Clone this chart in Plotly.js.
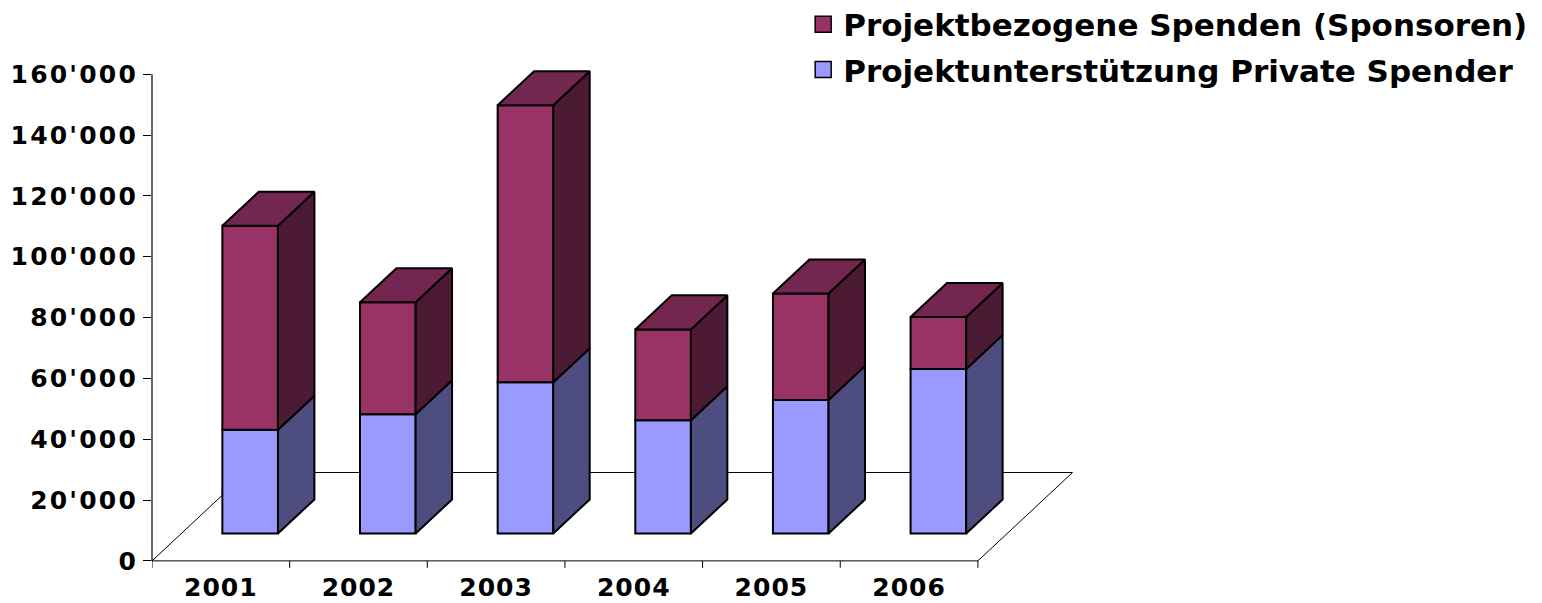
<!DOCTYPE html>
<html>
<head>
<meta charset="utf-8">
<script src="https://cdn.plot.ly/plotly-3.0.1.min.js"></script>
<style>
html,body{margin:0;padding:0;background:#fff;}
#chart{width:1542px;height:603px;}
#chart .ytick text{letter-spacing:2.2px;}
#chart .xtick text{letter-spacing:1px;}
</style>
</head>
<body>
<div id="chart"></div>
<script>
// ---- data ----
const years = ['2001', '2002', '2003', '2004', '2005', '2006'];
const privateSpender = [34100, 39200, 49700, 37200, 43900, 54100];
const sponsoren = [67100, 36800, 91100, 29900, 35000, 17100];
const yTickVals = [0, 20000, 40000, 60000, 80000, 100000, 120000, 140000, 160000];
const yTickText = ["0", "20'000", "40'000", "60'000", "80'000", "100'000", "120'000", "140'000", "160'000"];
const nameSponsoren = 'Projektbezogene Spenden (Sponsoren)';
const namePrivate = 'Projektunterstützung Private Spender';

// ---- geometry / style (not data) ----
const BAR_W = 0.404;
const DEPTH_DX = 0.6875;   // full floor depth, x units
const DEPTH_DY = 29060;    // full floor depth, y units
const F0 = 0.31, F1 = 0.695;
const C = {
  privFront: '#9999FF', privSide: '#4D4D80',
  sponFront: '#993366', sponSide: '#4D1A33', sponTop: '#732650'
};
const OUT = {color: '#000', width: 2};
const FONT = "DejaVu Sans, Verdana, sans-serif";

const idx = years.map((_, i) => i);
const lowerP = idx.map(() => 0);
const lowerS = privateSpender.slice();

function sidePoly(lowers, vals) {
  const xs = [], ys = [];
  idx.forEach(i => {
    const xr = i + BAR_W / 2, lo = lowers[i], up = lowers[i] + vals[i];
    xs.push(xr + F0 * DEPTH_DX, xr + F1 * DEPTH_DX, xr + F1 * DEPTH_DX, xr + F0 * DEPTH_DX, xr + F0 * DEPTH_DX, null);
    ys.push(lo + F0 * DEPTH_DY, lo + F1 * DEPTH_DY, up + F1 * DEPTH_DY, up + F0 * DEPTH_DY, lo + F0 * DEPTH_DY, null);
  });
  return {xs, ys};
}
function topPoly(lowers, vals) {
  const xs = [], ys = [];
  idx.forEach(i => {
    const xl = i - BAR_W / 2, xr = i + BAR_W / 2, t = lowers[i] + vals[i];
    xs.push(xl + F0 * DEPTH_DX, xr + F0 * DEPTH_DX, xr + F1 * DEPTH_DX, xl + F1 * DEPTH_DX, xl + F0 * DEPTH_DX, null);
    ys.push(t + F0 * DEPTH_DY, t + F0 * DEPTH_DY, t + F1 * DEPTH_DY, t + F1 * DEPTH_DY, t + F0 * DEPTH_DY, null);
  });
  return {xs, ys};
}

const frontX = idx.map(i => i + F0 * DEPTH_DX);
const sP = sidePoly(lowerP, privateSpender);
const sS = sidePoly(lowerS, sponsoren);
const tS = topPoly(lowerS, sponsoren);

const polyTrace = (p, color) => ({
  type: 'scatter', mode: 'lines', x: p.xs, y: p.ys, fill: 'toself', fillcolor: color,
  line: {color: '#000', width: 2}, hoverinfo: 'skip', showlegend: false
});

const traces = [
  {type: 'bar', x: frontX, y: privateSpender, base: lowerP.map(v => v + F0 * DEPTH_DY), width: BAR_W,
   marker: {color: C.privFront, line: OUT}, showlegend: false, name: namePrivate},
  {type: 'bar', x: frontX, y: sponsoren, base: lowerS.map(v => v + F0 * DEPTH_DY), width: BAR_W,
   marker: {color: C.sponFront, line: OUT}, showlegend: false, name: nameSponsoren},
  polyTrace(sP, C.privSide),
  polyTrace(sS, C.sponSide),
  polyTrace(tS, C.sponTop),
  {type: 'scatter', mode: 'markers', x: [null], y: [null], name: nameSponsoren, legendgroup: 'a',
   marker: {symbol: 'square', size: 16, color: C.sponFront, line: {color: '#000', width: 1.5}}},
  {type: 'scatter', mode: 'markers', x: [null], y: [null], name: namePrivate, legendgroup: 'b',
   marker: {symbol: 'square', size: 16, color: C.privFront, line: {color: '#000', width: 1.5}}}
];

const xLeft = -0.5, xRight = years.length - 0.5;
const shapes = [
  {type: 'path', layer: 'below', xref: 'x', yref: 'y',
   path: `M${xLeft},0 L${xLeft + DEPTH_DX},${DEPTH_DY} L${xRight + DEPTH_DX},${DEPTH_DY} L${xRight},0 Z`,
   line: {color: '#000', width: 1}},
  {type: 'line', xref: 'paper', yref: 'y', x0: 0, x1: 0, y0: 0, y1: yTickVals[yTickVals.length - 1],
   line: {color: '#000', width: 1.2}}
];
for (let b = xLeft; b <= xRight + 1e-9; b += 1) {
  shapes.push({type: 'line', xref: 'x', yref: 'y', x0: b, x1: b, y0: 0, y1: -2300, line: {color: '#000', width: 1}});
}

const layout = {
  width: 1542, height: 603,
  margin: {l: 152, r: 454.3, t: 55.7, b: 33.2, autoexpand: false},
  paper_bgcolor: '#fff', plot_bgcolor: 'rgba(0,0,0,0)',
  barmode: 'overlay',
  showlegend: true,
  xaxis: {range: [xLeft, 6.3], tickvals: idx, ticktext: years, showgrid: false, zeroline: false,
          showline: false, ticks: '', tickfont: {family: FONT, size: 25, color: '#000', weight: 'bold'}},
  yaxis: {range: [-3000, 166000], tickvals: yTickVals, ticktext: yTickText, showgrid: false, zeroline: false,
          showline: false, ticks: 'outside', ticklen: 8, tickcolor: '#000', tickwidth: 1,
          tickfont: {family: FONT, size: 25, color: '#000', weight: 'bold'}},
  legend: {x: 0.6957, xanchor: 'left', y: 1.1136, yanchor: 'top', traceorder: 'grouped', tracegroupgap: 2,
           font: {family: FONT, size: 31, color: '#000', weight: 'bold'}, bgcolor: 'rgba(0,0,0,0)'},
  shapes: shapes
};

Plotly.newPlot('chart', traces, layout, {displayModeBar: false, staticPlot: true});
</script>
</body>
</html>
